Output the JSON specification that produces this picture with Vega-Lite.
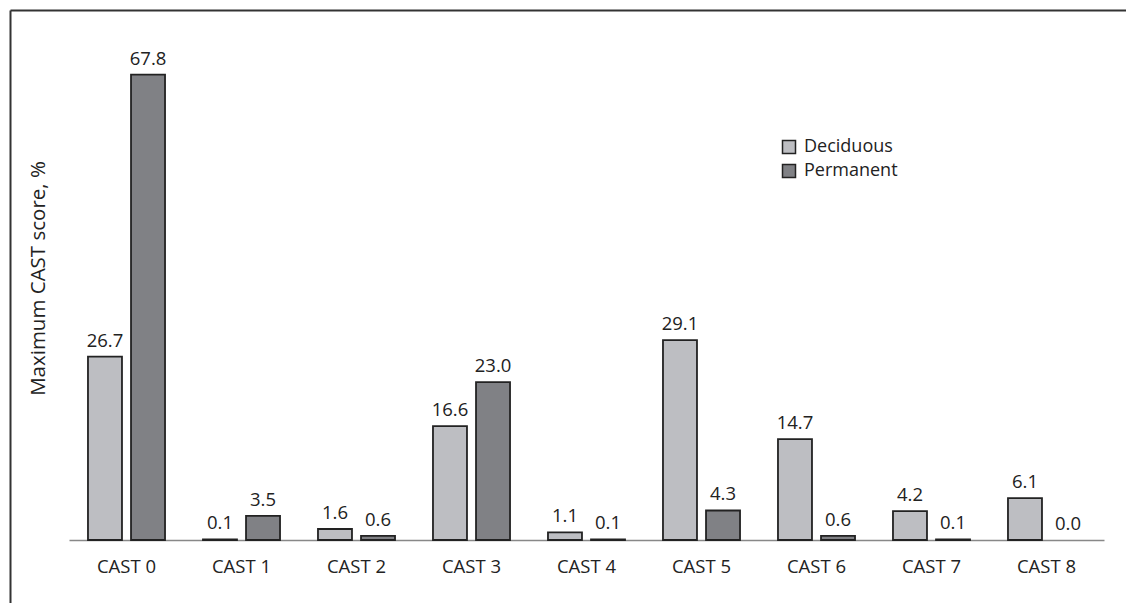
{
  "$schema": "https://vega.github.io/schema/vega-lite/v6.json",
  "autosize": {"type": "none"},
  "padding": {"left": 10, "top": 10, "right": 0, "bottom": 63},
  "width": 1116,
  "height": 530,
  "config": {"view": {"stroke": null}, "font": "Open Sans"},
  "layer": [
    {
      "data": {"values": [{"f": 0}, {"f": 1}]},
      "mark": {"type": "point", "opacity": 0},
      "encoding": {
        "x": {"field": "f", "type": "quantitative", "scale": {"domain": [0, 1], "range": [0, 1116]},
              "axis": {"orient": "top", "domainColor": "#333", "domainWidth": 2, "ticks": false, "labels": false, "grid": false, "title": null}},
        "y": {"field": "f", "type": "quantitative", "scale": {"domain": [0, 1], "range": [593, 0]},
              "axis": {"orient": "left", "domainColor": "#333", "domainWidth": 2, "ticks": false, "labels": false, "grid": false, "title": null}}
      }
    },
    {
      "data": {"values": [
        {"cast": "CAST 0", "type": "Deciduous", "value": 26.7},
        {"cast": "CAST 0", "type": "Permanent", "value": 67.8},
        {"cast": "CAST 1", "type": "Deciduous", "value": 0.1},
        {"cast": "CAST 1", "type": "Permanent", "value": 3.5},
        {"cast": "CAST 2", "type": "Deciduous", "value": 1.6},
        {"cast": "CAST 2", "type": "Permanent", "value": 0.6},
        {"cast": "CAST 3", "type": "Deciduous", "value": 16.6},
        {"cast": "CAST 3", "type": "Permanent", "value": 23.0},
        {"cast": "CAST 4", "type": "Deciduous", "value": 1.1},
        {"cast": "CAST 4", "type": "Permanent", "value": 0.1},
        {"cast": "CAST 5", "type": "Deciduous", "value": 29.1},
        {"cast": "CAST 5", "type": "Permanent", "value": 4.3},
        {"cast": "CAST 6", "type": "Deciduous", "value": 14.7},
        {"cast": "CAST 6", "type": "Permanent", "value": 0.6},
        {"cast": "CAST 7", "type": "Deciduous", "value": 4.2},
        {"cast": "CAST 7", "type": "Permanent", "value": 0.1},
        {"cast": "CAST 8", "type": "Deciduous", "value": 6.1},
        {"cast": "CAST 8", "type": "Permanent", "value": 0.0}
      ]},
      "encoding": {
        "x": {"field": "cast", "type": "nominal", "sort": null,
              "scale": {"range": [59, 1094], "paddingInner": 0.33, "paddingOuter": 0.165},
              "axis": {"orient": "bottom", "title": null, "labelAngle": 0, "labelFontSize": 18.5, "labelColor": "#222",
                       "domainColor": "#888", "domainWidth": 1.5, "ticks": false, "labelPadding": 17, "grid": false}},
        "xOffset": {"field": "type", "type": "nominal", "sort": ["Deciduous", "Permanent"], "scale": {"paddingInner": 0.21}},
        "y": {"field": "value", "type": "quantitative", "scale": {"domain": [0, 77.2], "nice": false},
              "axis": {"orient": "left", "title": "Maximum CAST score, %", "domain": false, "ticks": false, "labels": false, "grid": false,
                       "titleFontSize": 20.5, "titleFontWeight": "normal", "titleColor": "#222", "titleX": 38, "titleY": 268}}
      },
      "layer": [
        {
          "mark": {"type": "bar", "stroke": "#222", "strokeWidth": 1.8},
          "encoding": {
            "color": {"field": "type", "type": "nominal",
                      "scale": {"domain": ["Deciduous", "Permanent"], "range": ["#bdbec2", "#808185"]},
                      "legend": {"orient": "none", "legendX": 770, "legendY": 128, "title": null, "symbolType": "square",
                                 "symbolSize": 169, "symbolStrokeColor": "#222", "symbolStrokeWidth": 1.5,
                                 "labelFontSize": 18, "labelColor": "#222", "rowPadding": 4, "labelOffset": 6}},
            "strokeOpacity": {"condition": {"test": "datum.value > 0", "value": 1}, "value": 0}
          }
        },
        {
          "mark": {"type": "text", "baseline": "alphabetic", "dy": -10, "fontSize": 18.5, "color": "#222"},
          "encoding": {
            "text": {"field": "value", "type": "quantitative", "format": ".1f"}
          }
        }
      ]
    }
  ],
  "resolve": {"scale": {"x": "independent", "y": "independent"}, "axis": {"x": "independent", "y": "independent"}}
}
